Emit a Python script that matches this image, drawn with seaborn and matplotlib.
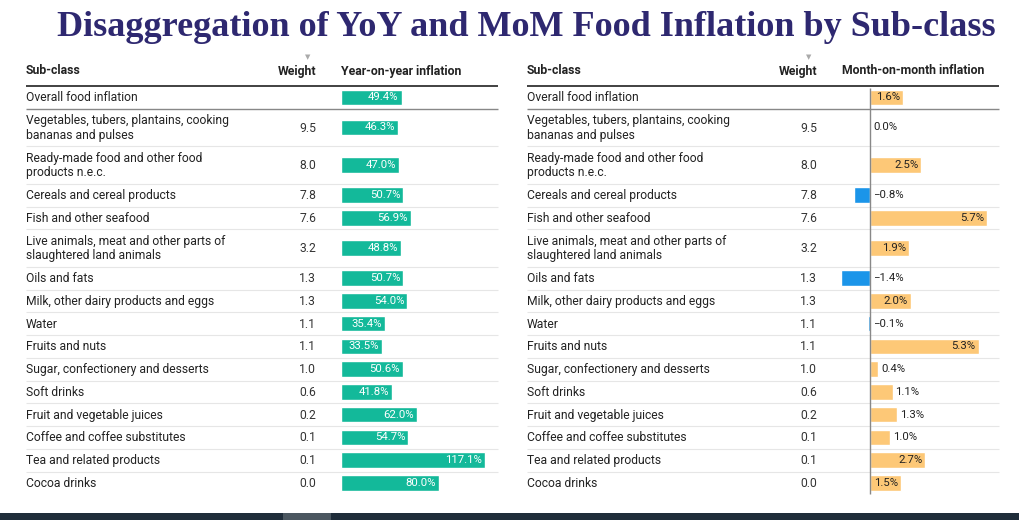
import numpy as np
import pandas as pd
import matplotlib
matplotlib.use('Agg')
import matplotlib.pyplot as plt
from matplotlib.patches import Rectangle
import seaborn as sns

sns.set_style('white')
plt.rcParams['font.family'] = ['Roboto', 'DejaVu Sans']

# data
subclasses = [
    'Overall food inflation',
    'Vegetables, tubers, plantains, cooking\nbananas and pulses',
    'Ready-made food and other food\nproducts n.e.c.',
    'Cereals and cereal products',
    'Fish and other seafood',
    'Live animals, meat and other parts of\nslaughtered land animals',
    'Oils and fats',
    'Milk, other dairy products and eggs',
    'Water',
    'Fruits and nuts',
    'Sugar, confectionery and desserts',
    'Soft drinks',
    'Fruit and vegetable juices',
    'Coffee and coffee substitutes',
    'Tea and related products',
    'Cocoa drinks',
]
weights = [None, 9.5, 8.0, 7.8, 7.6, 3.2, 1.3, 1.3, 1.1, 1.1, 1.0, 0.6, 0.2, 0.1, 0.1, 0.0]
yoy = [49.4, 46.3, 47.0, 50.7, 56.9, 48.8, 50.7, 54.0, 35.4, 33.5, 50.6, 41.8, 62.0, 54.7, 117.1, 80.0]
mom = [1.6, 0.0, 2.5, -0.8, 5.7, 1.9, -1.4, 2.0, -0.1, 5.3, 0.4, 1.1, 1.3, 1.0, 2.7, 1.5]

title = 'Disaggregation of YoY and MoM Food Inflation by Sub-class'

TEAL = '#13b99a'
ORANGE = '#fdc877'
BLUE = '#1b95e9'
TXT = '#222222'

# row layout (pixel units, figure is 1020x520)
W, H = 1020, 520
top = 86
row_h = np.array([37.5 if '\n' in s else 22.75 for s in subclasses])
edges = top + np.concatenate([[0], np.cumsum(row_h)])
centers = edges[:-1] + row_h / 2

df = pd.DataFrame({'sub': subclasses, 'y': centers, 'yoy': yoy, 'mom': mom})
df['sign'] = np.where(df['mom'] < 0, 'neg', 'pos')

fig = plt.figure(figsize=(W / 100, H / 100), dpi=100)
bg = fig.add_axes([0, 0, 1, 1])
bg.set_xlim(0, W)
bg.set_ylim(H, 0)
bg.axis('off')

bar_px = 15.5
bar_w = bar_px / np.min(np.diff(np.unique(centers)))

# left: year-on-year bars
yoy_x0, yoy_x1, yoy_scale = 341, 498, 1.23
ax1 = fig.add_axes([yoy_x0 / W, 0, (yoy_x1 - yoy_x0) / W, 1])
sns.barplot(data=df, x='yoy', y='y', orient='h', native_scale=True,
            color=TEAL, width=bar_w, saturation=1, ax=ax1)
ax1.set_xlim(0, (yoy_x1 - yoy_x0) / yoy_scale)
ax1.set_ylim(H, 0)
ax1.axis('off')
for v, yc in zip(yoy, centers):
    ax1.text(v - 2.5, yc, f'{v:.1f}%', ha='right', va='center',
             color='white', fontsize=8.2)

# right: month-on-month bars
mom_zero, mom_x0, mom_x1, mom_scale = 870, 830, 1000, 20.5
ax2 = fig.add_axes([mom_x0 / W, 0, (mom_x1 - mom_x0) / W, 1])
sns.barplot(data=df, x='mom', y='y', orient='h', native_scale=True,
            hue='sign', palette={'pos': ORANGE, 'neg': BLUE}, legend=False,
            width=bar_w, saturation=1, ax=ax2)
ax2.set_xlim((mom_x0 - mom_zero) / mom_scale, (mom_x1 - mom_zero) / mom_scale)
ax2.set_ylim(H, 0)
ax2.axis('off')
ax2.vlines(0, top + 2, edges[-1], color='#888888', lw=1)
pad = 3 / mom_scale
for v, yc in zip(mom, centers):
    lab = f'{v:.1f}%'.replace('-', '\u2212')
    if v * mom_scale > 28:
        ax2.text(v - pad, yc, lab, ha='right', va='center', color=TXT, fontsize=8.2)
    elif v > 0:
        ax2.text(v + pad, yc, lab, ha='left', va='center', color=TXT, fontsize=8.2)
    else:
        ax2.text(pad, yc, lab, ha='left', va='center', color=TXT, fontsize=8.2)

# table text and rules
for x0, x1, wx, head in [(26, 498, 316, 'Year-on-year inflation'),
                         (527, 999, 817, 'Month-on-month inflation')]:
    bg.text(x0, 71, 'Sub-class', fontsize=8.8, fontweight='bold', color=TXT, va='center')
    bg.text(wx, 71, 'Weight', fontsize=8.8, fontweight='bold', color=TXT,
            va='center', ha='right')
    bg.text(wx + 25, 71, head, fontsize=8.8, fontweight='bold', color=TXT, va='center')
    bg.text(wx - 8, 57, '\u25bc', fontsize=5, color='#aaaaaa', ha='center',
            va='center', family='DejaVu Sans')
    bg.hlines(top, x0, x1, color='#333333', lw=1.3)
    bg.hlines(edges[1], x0, x1, color='#888888', lw=1)
    bg.hlines(edges[2:-1], x0, x1, color='#e6e6e6', lw=0.8)
    for s, w, yc in zip(subclasses, weights, centers):
        bg.text(x0, yc + 0.5, s, fontsize=8.75, color=TXT, va='center', linespacing=1.12)
        if w is not None:
            bg.text(wx, yc + 0.5, f'{w:.1f}', fontsize=8.75, color='#333333',
                    va='center', ha='right')

bg.text(526, 28, title, fontsize=26, fontweight='bold', color='#2e2870',
        ha='center', va='center', family=['Liberation Serif', 'DejaVu Serif'])

# dark strip along the bottom edge
bg.add_patch(Rectangle((0, 513), W, 7, color='#1f2d3a', lw=0))
bg.add_patch(Rectangle((283, 513), 48, 7, color='#4b5760', lw=0))

fig.savefig('out.png', dpi=100)
